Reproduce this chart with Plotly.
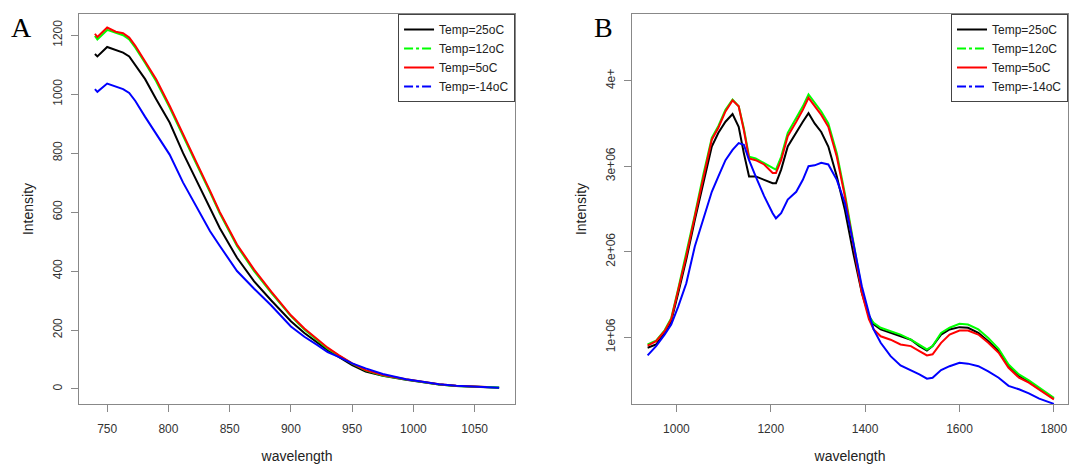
import plotly.graph_objects as go

# ---------------- Panel A data ----------------
wl_a = [740, 742, 750, 757, 763, 768, 773, 781, 790, 801, 812, 823, 834, 842, 856,
        870, 884, 900, 911, 922, 930, 939, 950, 961, 975, 994, 1008, 1021, 1035,
        1049, 1060, 1070]
a_t25 = [1136, 1128, 1160, 1149, 1141, 1128, 1098, 1051, 983, 904, 800, 705, 610, 545,
         445, 365, 300, 230, 190, 157, 132, 109, 81, 59, 45, 31, 23, 15, 10, 7, 5, 4]
a_t12 = [1198, 1186, 1218, 1207, 1200, 1186, 1158, 1106, 1044, 955, 856, 762, 667, 595,
         485, 400, 326, 247, 202, 165, 137, 113, 86, 63, 46, 32, 24, 15, 10, 7, 6, 5]
a_t5 = [1205, 1194, 1226, 1212, 1207, 1192, 1164, 1113, 1051, 961, 862, 768, 672, 600,
        490, 405, 330, 250, 205, 168, 140, 115, 87, 64, 47, 33, 25, 16, 11, 8, 7, None]
a_tm14 = [1017, 1008, 1036, 1026, 1017, 1004, 977, 923, 865, 795, 700, 615, 535, 485,
          400, 340, 283, 212, 177, 148, 125, 109, 87, 70, 51, 33, 24, 16, 11, 8, 6, 4]

# ---------------- Panel B data ----------------
wl_b = [939, 957, 975, 989, 1004, 1021, 1039, 1057, 1075, 1089, 1104, 1119, 1132, 1143,
        1154, 1168, 1186, 1204, 1211, 1222, 1236, 1254, 1268, 1280, 1293, 1307, 1322,
        1340, 1357, 1375, 1393, 1408, 1418, 1433, 1454, 1475, 1497, 1515, 1531, 1543,
        1561, 1579, 1600, 1618, 1640, 1661, 1683, 1704, 1726, 1747, 1769, 1800]
b_t25 = [0.876e6, 0.914e6, 1.05e6, 1.187e6, 1.52e6, 1.91e6, 2.37e6, 2.82e6, 3.23e6, 3.39e6,
         3.52e6, 3.61e6, 3.46e6, 3.15e6, 2.88e6, 2.88e6, 2.84e6, 2.80e6, 2.80e6, 2.96e6,
         3.23e6, 3.40e6, 3.52e6, 3.62e6, 3.50e6, 3.40e6, 3.23e6, 2.88e6, 2.49e6, 1.98e6,
         1.52e6, 1.25e6, 1.15e6, 1.09e6, 1.05e6, 1.01e6, 0.97e6, 0.895e6, 0.844e6, 0.895e6,
         1.03e6, 1.09e6, 1.117e6, 1.11e6, 1.05e6, 0.953e6, 0.837e6, 0.66e6, 0.545e6,
         0.475e6, 0.39e6, 0.28e6]
b_t12 = [0.914e6, 0.96e6, 1.08e6, 1.22e6, 1.57e6, 1.97e6, 2.43e6, 2.90e6, 3.33e6, 3.47e6,
         3.66e6, 3.78e6, 3.70e6, 3.44e6, 3.11e6, 3.09e6, 3.03e6, 2.98e6, 2.96e6, 3.11e6,
         3.39e6, 3.56e6, 3.70e6, 3.84e6, 3.74e6, 3.64e6, 3.50e6, 3.15e6, 2.68e6, 2.14e6,
         1.556e6, 1.245e6, 1.167e6, 1.11e6, 1.07e6, 1.03e6, 0.97e6, 0.914e6, 0.856e6,
         0.895e6, 1.05e6, 1.11e6, 1.156e6, 1.148e6, 1.09e6, 0.99e6, 0.864e6, 0.68e6,
         0.564e6, 0.494e6, 0.408e6, 0.29e6]
b_t5 = [0.90e6, 0.953e6, 1.07e6, 1.21e6, 1.556e6, 1.95e6, 2.41e6, 2.88e6, 3.31e6, 3.45e6,
        3.64e6, 3.77e6, 3.70e6, 3.42e6, 3.09e6, 3.07e6, 3.02e6, 2.92e6, 2.92e6, 3.07e6,
        3.35e6, 3.52e6, 3.66e6, 3.80e6, 3.70e6, 3.60e6, 3.46e6, 3.11e6, 2.65e6, 2.10e6,
        1.52e6, 1.21e6, 1.09e6, 1.01e6, 0.97e6, 0.914e6, 0.895e6, 0.837e6, 0.786e6, 0.80e6,
        0.934e6, 1.03e6, 1.078e6, 1.078e6, 1.03e6, 0.934e6, 0.817e6, 0.642e6, 0.525e6,
        0.467e6, 0.39e6, 0.272e6]
b_tm14 = [0.786e6, 0.895e6, 1.03e6, 1.148e6, 1.36e6, 1.63e6, 2.06e6, 2.37e6, 2.70e6, 2.88e6,
          3.07e6, 3.19e6, 3.27e6, 3.25e6, 3.07e6, 2.88e6, 2.65e6, 2.45e6, 2.39e6, 2.45e6,
          2.61e6, 2.70e6, 2.84e6, 3.00e6, 3.01e6, 3.04e6, 3.02e6, 2.84e6, 2.57e6, 2.10e6,
          1.595e6, 1.28e6, 1.09e6, 0.934e6, 0.778e6, 0.669e6, 0.615e6, 0.564e6, 0.514e6,
          0.525e6, 0.615e6, 0.66e6, 0.70e6, 0.69e6, 0.66e6, 0.60e6, 0.525e6, 0.43e6, 0.39e6,
          0.342e6, 0.28e6, 0.22e6]

series_names = ["Temp=25oC", "Temp=12oC", "Temp=5oC", "Temp=-14oC"]
series_colors = ["#000000", "#00FF00", "#FF0000", "#0000FF"]
legend_dash = ["solid", "dashdot", "solid", "dashdot"]

x_ticks_a = [750, 800, 850, 900, 950, 1000, 1050]
y_ticks_a = [0, 200, 400, 600, 800, 1000, 1200]
x_ticks_b = [1000, 1200, 1400, 1600, 1800]
y_ticks_b = [1e6, 2e6, 3e6, 4e6]
y_ticktext_b = ["1e+06", "2e+06", "3e+06", "4e+"]

FONT = "Liberation Sans, Arial, sans-serif"
fig = go.Figure()

data_a = [a_t25, a_t12, a_t5, a_tm14]
data_b = [b_t25, b_t12, b_t5, b_tm14]

for vals, col in zip(data_a, series_colors):
    fig.add_trace(go.Scatter(x=wl_a, y=vals, mode="lines", line=dict(color=col, width=2),
                             showlegend=False, xaxis="x", yaxis="y"))
for vals, col in zip(data_b, series_colors):
    fig.add_trace(go.Scatter(x=wl_b, y=vals, mode="lines", line=dict(color=col, width=2),
                             showlegend=False, xaxis="x2", yaxis="y2"))

# legend entries (R-style legend samples)
for name, col, dash in zip(series_names, series_colors, legend_dash):
    fig.add_trace(go.Scatter(x=[None], y=[None], mode="lines", name=name,
                             line=dict(color=col, width=2, dash=dash),
                             legend="legend", xaxis="x", yaxis="y"))
for name, col, dash in zip(series_names, series_colors, legend_dash):
    fig.add_trace(go.Scatter(x=[None], y=[None], mode="lines", name=name,
                             line=dict(color=col, width=2, dash=dash),
                             legend="legend2", xaxis="x2", yaxis="y2"))

axis_common = dict(showline=True, mirror=True, linecolor="#888888", linewidth=1,
                   ticks="outside", ticklen=7, tickcolor="#888888", showgrid=False,
                   zeroline=False, automargin=False,
                   tickfont=dict(family=FONT, size=12, color="#333333"))

legend_common = dict(y=1, yanchor="top", xref="paper", yref="paper",
                     bordercolor="#444444", borderwidth=1, bgcolor="white",
                     font=dict(family=FONT, size=12, color="#222222"), itemwidth=30,
                     entrywidth=84, entrywidthmode="pixels")

fig.update_layout(
    width=1069, height=464,
    margin=dict(l=79, r=1, t=14, b=60),
    plot_bgcolor="white", paper_bgcolor="white",
    font=dict(family=FONT, size=12, color="#222222"),
    xaxis=dict(domain=[0, 0.4409], range=[727, 1083], tickvals=x_ticks_a,
               title=dict(text="wavelength", standoff=23), anchor="y",
               ticklabelstandoff=7, **axis_common),
    yaxis=dict(domain=[0, 1], range=[-51, 1272], tickvals=y_ticks_a, tickangle=-90,
               title=dict(text="Intensity", standoff=14), anchor="x",
               ticklabelstandoff=4, **axis_common),
    xaxis2=dict(domain=[0.5592, 1.0], range=[906, 1830], tickvals=x_ticks_b,
                title=dict(text="wavelength", standoff=23), anchor="y2",
                ticklabelstandoff=7, **axis_common),
    yaxis2=dict(domain=[0, 1], range=[0.218e6, 4.78e6], tickvals=y_ticks_b,
                ticktext=y_ticktext_b, tickangle=-90,
                title=dict(text="Intensity", standoff=14), anchor="x2",
                ticklabelstandoff=4, **axis_common),
    legend=dict(x=0.4409, xanchor="right", **legend_common),
    legend2=dict(x=1.0, xanchor="right", **legend_common),
)

# panel letters, positioned from pixel targets
plot_w = 1069 - 79 - 1
plot_h = 464 - 14 - 60
letter_font = dict(family="Liberation Serif, Times New Roman, serif", size=28, color="#000")
for letter, px, py in [("A", 21, 28), ("B", 603, 28)]:
    fig.add_annotation(text=letter, x=(px - 79) / plot_w, y=(464 - 60 - py) / plot_h,
                       xref="paper", yref="paper", xanchor="center", yanchor="middle",
                       showarrow=False, font=letter_font)

fig.write_html("out.html", config={"displayModeBar": False},
               post_script="document.body.style.margin='0px';")
